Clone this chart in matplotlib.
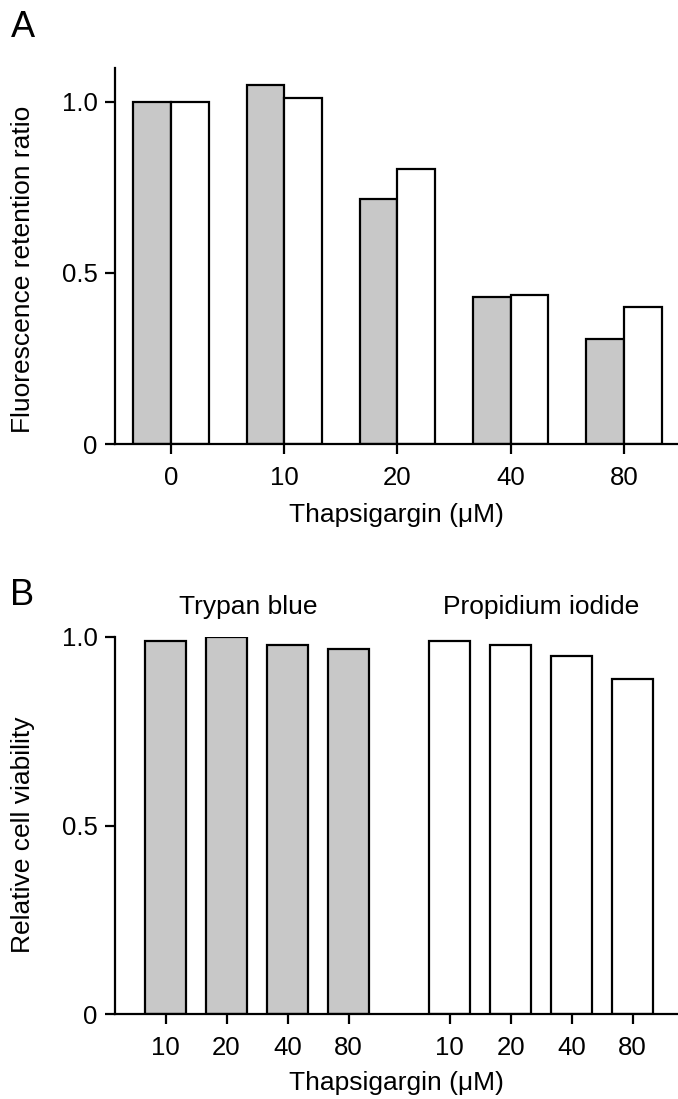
import numpy as np
import matplotlib
matplotlib.use('Agg')
import matplotlib.pyplot as plt
import matplotlib.transforms as mtransforms

plt.rcParams['font.family'] = ['Liberation Sans', 'DejaVu Sans']

# Panel A: fluorescence retention ratio
doses_a = ['0', '10', '20', '40', '80']
gray_a = [1.00, 1.050, 0.716, 0.430, 0.307]
white_a = [1.00, 1.012, 0.804, 0.436, 0.401]

# Panel B: relative cell viability
doses_b = ['10', '20', '40', '80']
trypan = [0.989, 1.00, 0.979, 0.968]
propidium = [0.989, 0.979, 0.950, 0.889]

gray = '#c8c8c8'
lw = 1.6
fs = 19      # axis labels / group labels
fs_t = 18.5  # tick labels

W, H = 678, 1099
fig = plt.figure(figsize=(W / 100, H / 100), dpi=100)

def style_axes(ax):
    for s in ['top', 'right']:
        ax.spines[s].set_visible(False)
    for s in ['left', 'bottom']:
        ax.spines[s].set_linewidth(lw)
    ax.tick_params(axis='both', width=lw, length=7.5, labelsize=fs_t)
    ax.tick_params(axis='y', pad=5)
    ax.tick_params(axis='x', pad=9, length=7)
    ax.set_yticks([0, 0.5, 1.0])
    ax.set_yticklabels(['0', '0.5', '1.0'])

# ---- A ----
axA = fig.add_axes([115 / W, 1 - 444 / H, (W - 115) / W, (444 - 68) / H])
xa = np.arange(len(doses_a))
bw = 0.333
axA.bar(xa - bw / 2, gray_a, bw, color=gray, edgecolor='black', linewidth=lw)
axA.bar(xa + bw / 2, white_a, bw, color='white', edgecolor='black', linewidth=lw)
axA.set_xlim(-0.4945, 4.477)
axA.set_ylim(0, 1.099)
style_axes(axA)
axA.set_xticks(xa)
axA.set_xticklabels(doses_a)
axA.set_xlabel('Thapsigargin (\u03bcM)', fontsize=fs, labelpad=9)

# ---- B ----
axB = fig.add_axes([115 / W, 1 - 1014 / H, (W - 115) / W, (1014 - 637) / H])
gap = 4.656
xt = np.arange(len(doses_b))
xp = xt + gap
bwb = 0.67
axB.bar(xt, trypan, bwb, color=gray, edgecolor='black', linewidth=lw)
axB.bar(xp, propidium, bwb, color='white', edgecolor='black', linewidth=lw)
axB.set_xlim(-0.828, 8.40)
axB.set_ylim(0, 1.0)
style_axes(axB)
axB.set_xticks(np.concatenate([xt, xp]))
axB.set_xticklabels(doses_b + doses_b)
axB.set_xlabel('Thapsigargin (\u03bcM)', fontsize=fs, labelpad=8)

tr = mtransforms.blended_transform_factory(axB.transData, axB.transAxes)
axB.text(1.35, 1.08, 'Trypan blue', transform=tr, ha='center', va='center', fontsize=fs)
axB.text(np.mean(xp), 1.08, 'Propidium iodide', transform=tr, ha='center', va='center', fontsize=fs)

# y labels
fig.text(23 / W, 1 - 269 / H, 'Fluorescence retention ratio', rotation=90,
         ha='center', va='center', fontsize=fs)
fig.text(23 / W, 1 - 835 / H, 'Relative cell viability', rotation=90,
         ha='center', va='center', fontsize=fs)

# panel letters
fig.text(11 / W, 1 - 37 / H, 'A', fontsize=26, va='baseline', ha='left')
fig.text(10 / W, 1 - 605 / H, 'B', fontsize=26, va='baseline', ha='left')

fig.savefig('out.png', dpi=100)
